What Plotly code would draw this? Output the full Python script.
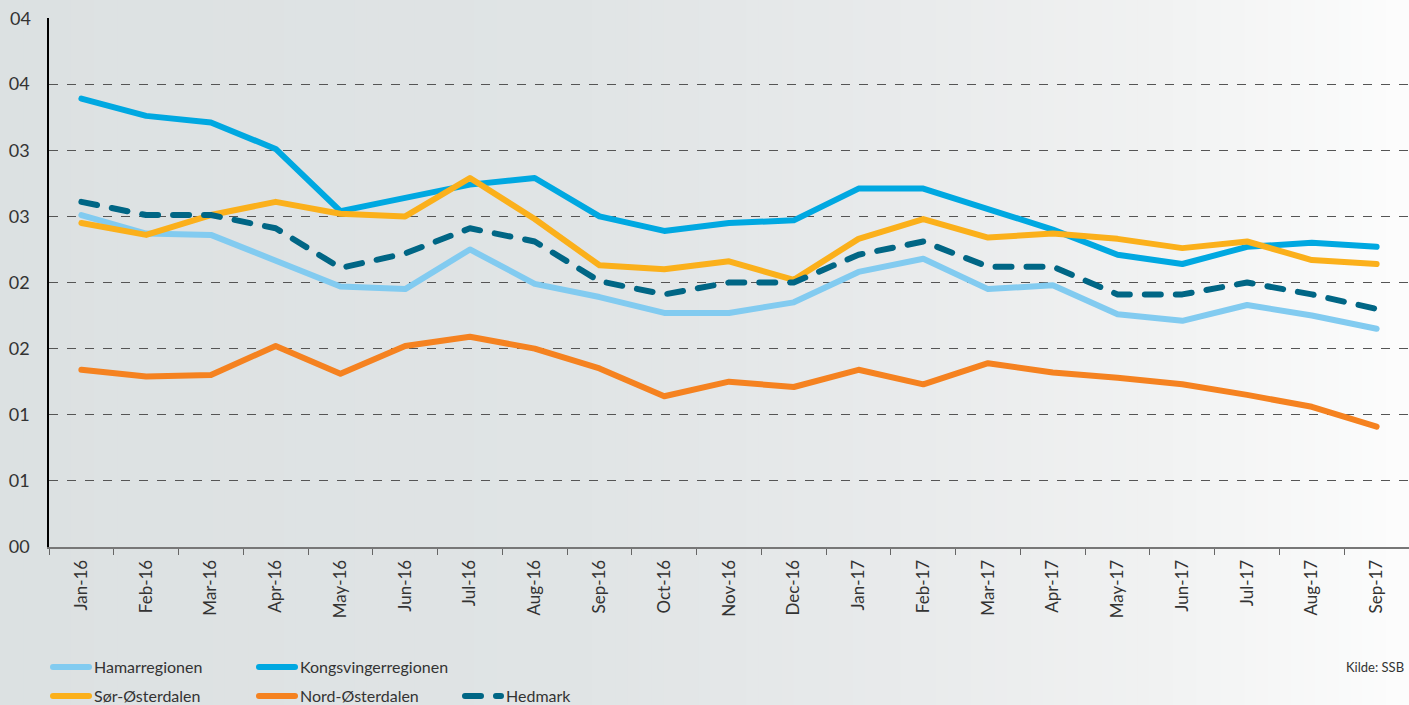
import plotly.graph_objects as go

months = ["Jan-16", "Feb-16", "Mar-16", "Apr-16", "May-16", "Jun-16", "Jul-16", "Aug-16",
          "Sep-16", "Oct-16", "Nov-16", "Dec-16", "Jan-17", "Feb-17", "Mar-17", "Apr-17",
          "May-17", "Jun-17", "Jul-17", "Aug-17", "Sep-17"]

hamarregionen = [0.0251, 0.0237, 0.0236, 0.0216, 0.0197, 0.0195, 0.0225, 0.0199, 0.0189, 0.0177,
                 0.0177, 0.0185, 0.0208, 0.0218, 0.0195, 0.0198, 0.0176, 0.0171, 0.0183, 0.0175, 0.0165]
kongsvingerregionen = [0.0339, 0.0326, 0.0321, 0.0301, 0.0254, 0.0264, 0.0274, 0.0279, 0.0250, 0.0239,
                       0.0245, 0.0247, 0.0271, 0.0271, 0.0255, 0.0240, 0.0221, 0.0214, 0.0227, 0.0230, 0.0227]
sor_osterdalen = [0.0245, 0.0236, 0.0251, 0.0261, 0.0252, 0.0250, 0.0279, 0.0248, 0.0213, 0.0210,
                  0.0216, 0.0202, 0.0233, 0.0248, 0.0234, 0.0237, 0.0233, 0.0226, 0.0231, 0.0217, 0.0214]
nord_osterdalen = [0.0134, 0.0129, 0.0130, 0.0152, 0.0131, 0.0152, 0.0159, 0.0150, 0.0135, 0.0114,
                   0.0125, 0.0121, 0.0134, 0.0123, 0.0139, 0.0132, 0.0128, 0.0123, 0.0115, 0.0106, 0.0091]
hedmark = [0.0261, 0.0251, 0.0251, 0.0241, 0.0211, 0.0222, 0.0241, 0.0231, 0.0201, 0.0191,
           0.0200, 0.0200, 0.0221, 0.0231, 0.0212, 0.0212, 0.0191, 0.0191, 0.0200, 0.0191, 0.0180]

y_tickvals = [0, 0.005, 0.01, 0.015, 0.02, 0.025, 0.03, 0.035]
y_ticktext = ["00", "01", "01", "02", "02", "03", "03", "04"]
y_top_label = "04"

FONT = "Lato"
W, H = 1409, 705
ML, MR, MT, MB = 49, 0, 18, 158
PW = W - ML - MR
PH = H - MT - MB

fig = go.Figure()

series = [
    ("Hamarregionen", hamarregionen, "#82cbf0", "solid", "legend"),
    ("Kongsvingerregionen", kongsvingerregionen, "#00a8e1", "solid", "legend"),
    ("Sør-Østerdalen", sor_osterdalen, "#fbb01b", "solid", "legend2"),
    ("Nord-Østerdalen", nord_osterdalen, "#f58220", "solid", "legend2"),
    ("Hedmark", hedmark, "#006685", "16px,15px", "legend2"),
]
for name, vals, col, dash, lg in series:
    fig.add_trace(go.Scatter(x=months, y=vals, mode="lines", name=name,
                             line=dict(color=col, width=6, dash=dash),
                             legend=lg))

# background gradient (horizontal)
stops = [(0.0, (220, 225, 226)), (0.4, (224, 228, 229)), (0.65, (233, 235, 236)),
         (0.82, (241, 242, 242)), (1.0, (253, 253, 253))]

def col_at(t):
    for i in range(len(stops) - 1):
        t0, c0 = stops[i]
        t1, c1 = stops[i + 1]
        if t <= t1:
            f = (t - t0) / (t1 - t0) if t1 > t0 else 0
            return tuple(round(c0[k] + (c1[k] - c0[k]) * f) for k in range(3))
    return stops[-1][1]

N = 120
shapes = []
x_left = -ML / PW
x_right = 1 + MR / PW + 0.01
y_bot = -MB / PH
y_top = 1 + MT / PH
for i in range(N):
    a = i / N
    b = (i + 1) / N
    c = col_at((a + b) / 2)
    shapes.append(dict(type="rect", xref="paper", yref="paper",
                       x0=x_left + (x_right - x_left) * a - 0.0005,
                       x1=x_left + (x_right - x_left) * b + 0.0005,
                       y0=y_bot - 0.01, y1=y_top + 0.01,
                       fillcolor="rgb(%d,%d,%d)" % c, line=dict(width=0), layer="below"))

leg_common = dict(orientation="h", xref="container", yref="container", xanchor="left",
                  yanchor="middle", font=dict(size=16, color="#333333"),
                  bgcolor="rgba(0,0,0,0)", itemwidth=36, tracegroupgap=0,
                  entrywidth=155)

fig.update_layout(
    width=W, height=H,
    margin=dict(l=ML, r=MR, t=MT, b=MB, autoexpand=False),
    paper_bgcolor="#dce1e2",
    plot_bgcolor="rgba(0,0,0,0)",
    shapes=shapes,
    font=dict(family=FONT, color="#333333"),
    xaxis=dict(type="category", tickson="boundaries", ticks="outside", ticklen=6,
               tickcolor="#666666", showline=True, linecolor="#777777", linewidth=2,
               showgrid=False, tickangle=-90, tickfont=dict(size=17, color="#333333"),
               range=[-0.5, 20.5], automargin=False, ticklabelstandoff=4),
    yaxis=dict(range=[0, 0.04], tickvals=y_tickvals, ticktext=y_ticktext,
               showline=True, linecolor="#000000", linewidth=1.5,
               showgrid=True, gridcolor="#555555", gridwidth=1, griddash="dash",
               zeroline=False, ticks="", tickfont=dict(size=18, color="#333333"),
               ticklabelstandoff=14, automargin=False),
    legend=dict(leg_common, x=48 / W, y=1 - 667 / H),
    legend2=dict(leg_common, x=48 / W, y=1 - 696 / H),
    annotations=[
        dict(text=y_top_label, xref="paper", yref="y", x=-16 / PW, y=0.04, xanchor="right",
             yanchor="middle", showarrow=False, font=dict(size=18, color="#333333")),
        dict(text="Kilde: SSB", xref="paper", yref="paper", x=1 - 3 / PW,
             y=-(667 - (H - MB)) / PH, xanchor="right", yanchor="middle",
             showarrow=False, font=dict(size=13, color="#333333")),
    ],
)

post = """
document.body.style.margin = '0';
document.body.style.padding = '0';
var st = document.createElement('style');
st.innerHTML = 'body{margin:0 !important;} path.js-line { stroke-linecap: round !important; stroke-linejoin: round !important; }';
document.head.appendChild(st);
document.querySelectorAll('path.js-line').forEach(function(p){
  p.style.setProperty('stroke-linecap','round','important');
  p.style.setProperty('stroke-linejoin','round','important');
});
"""

fig.write_html("out.html", post_script=post, config={"displayModeBar": False})
